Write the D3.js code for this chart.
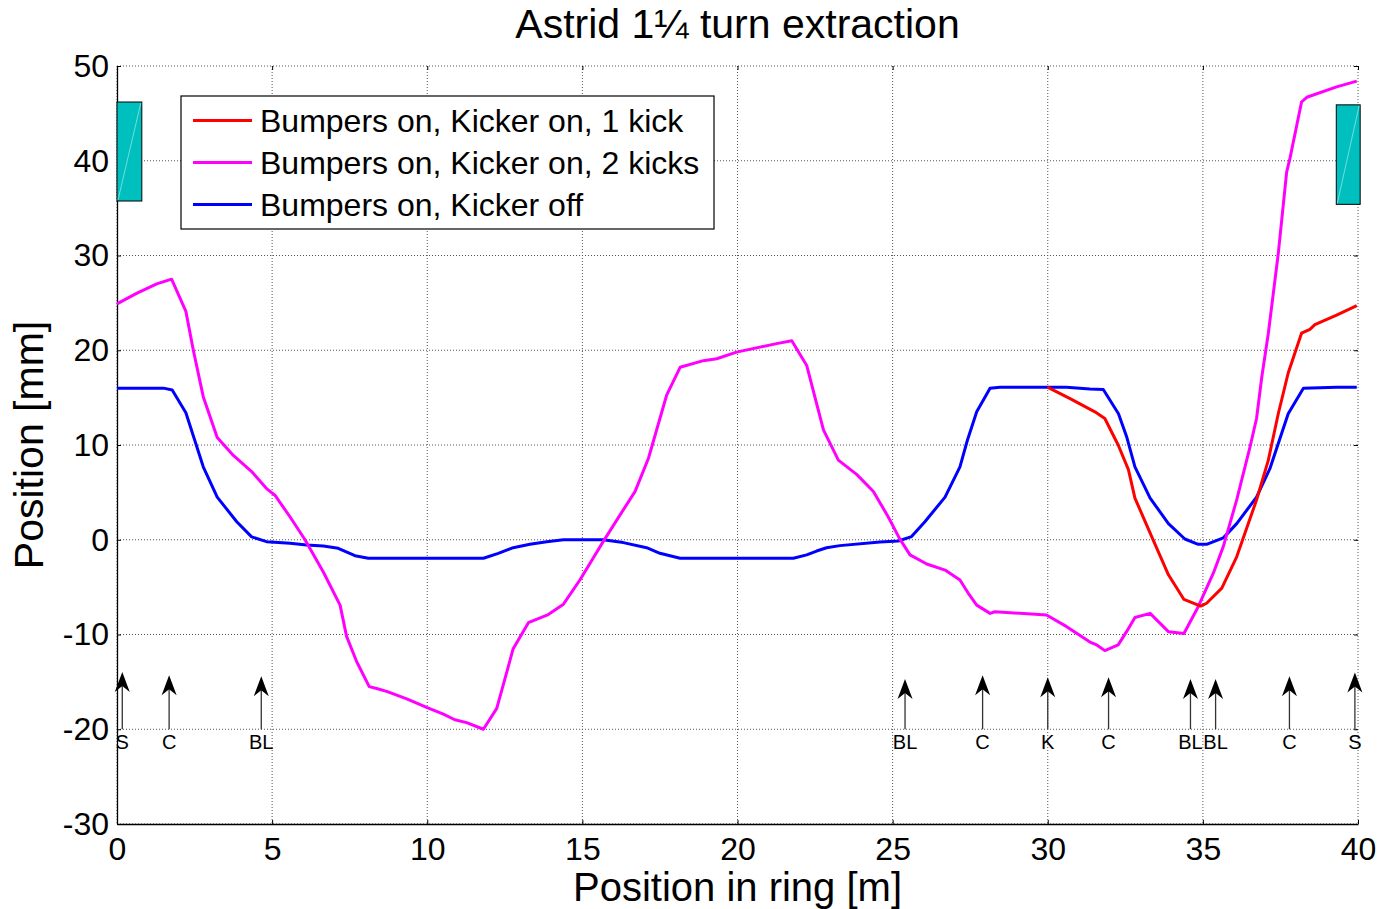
<!DOCTYPE html>
<html>
<head>
<meta charset="utf-8">
<script src="https://cdn.jsdelivr.net/npm/d3@7"></script>
<style>
  body { margin: 0; background: #fff; }
  svg { display: block; font-family: "Liberation Sans", Arial, Helvetica, sans-serif; }
</style>
</head>
<body>
<div id="chart"></div>
<script>
// tick values
var xTicks = [0, 5, 10, 15, 20, 25, 30, 35, 40];
var yTicks = [-30, -20, -10, 0, 10, 20, 30, 40, 50];

// Bumpers on, Kicker off (blue)
var offS = [0, 1.5, 1.78, 2.22, 2.78, 3.23, 3.86, 4.34, 4.82, 5.58, 6.11, 6.65, 7.13, 7.67, 8.10,
    11.81, 12.29, 12.56, 12.77, 13.31, 13.85, 14.39, 15.67, 16.32, 17.07, 17.50, 18.15,
    21.80, 22.23, 22.55, 22.87, 23.30, 24.59, 25.18, 25.61, 26.04, 26.69, 27.17, 27.41, 27.71,
    28.14, 28.46, 30.6, 31.36, 31.79, 32.28, 32.54, 32.81, 33.30, 33.89, 34.42, 34.85, 35.12,
    35.66, 36.09, 36.73, 37.16, 37.75, 38.24, 39.31, 39.96];
var offY = [16.0, 16.0, 15.8, 13.4, 7.7, 4.5, 1.9, 0.3, -0.2, -0.38, -0.55, -0.66, -0.9, -1.68, -1.95,
    -1.95, -1.44, -1.1, -0.84, -0.48, -0.2, 0, 0, -0.3, -0.84, -1.43, -1.95,
    -1.95, -1.6, -1.19, -0.84, -0.62, -0.25, -0.13, 0.33, 1.9, 4.5, 7.7, 10.5, 13.5,
    16.0, 16.1, 16.1, 15.9, 15.85, 13.3, 10.9, 7.7, 4.4, 1.7, 0.08, -0.48, -0.48,
    0.2, 1.7, 4.5, 7.5, 13.3, 16.0, 16.1, 16.1];

// Bumpers on, Kicker on, 1 kick (red)
var oneS = [29.99, 30.72, 31.52, 31.84, 32.27, 32.60, 32.81, 33.35, 33.89, 34.39, 34.93, 35.12,
    35.61, 36.09, 36.73, 37.11, 37.43, 37.75, 38.18, 38.45, 38.61, 39.31, 39.96];
var oneY = [16.1, 14.9, 13.5, 12.8, 10.0, 7.4, 4.4, 0.33, -3.7, -6.3, -7.0, -6.7,
    -5.1, -1.8, 4.2, 8.4, 13.3, 17.6, 21.8, 22.2, 22.7, 23.7, 24.7];

// Bumpers on, Kicker on, 2 kicks (magenta)
var twoS = [0, 0.63, 1.28, 1.76, 2.22, 2.46, 2.78, 3.23, 3.75, 4.34, 4.82, 5.09, 5.58, 6.06,
    6.65, 7.19, 7.40, 7.73, 8.13, 8.37, 8.69, 9.34, 9.98, 10.52, 10.89, 11.27, 11.81,
    12.24, 12.51, 12.77, 13.26, 13.90, 14.39, 14.92, 15.67, 16.21, 16.70, 17.13, 17.72,
    18.15, 18.90, 19.33, 19.97, 21.26, 21.75, 22.23, 22.77, 23.25, 23.84, 24.38, 24.86,
    25.22, 25.56, 26.10, 26.69, 27.17, 27.44, 27.71, 28.14, 28.30, 29.96, 30.61, 31.36,
    31.58, 31.84, 32.27, 32.54, 32.81, 33.30, 33.89, 34.39, 34.85, 35.34, 35.66, 36.09,
    36.52, 36.73, 36.90, 37.11, 37.43, 37.70, 37.81, 38.18, 38.35, 39.31, 39.96];
var twoY = [24.9, 26.0, 27.0, 27.5, 24.1, 20.0, 15.1, 10.8, 8.9, 7.2, 5.4, 4.7, 2.4, 0,
    -3.4, -6.9, -10.2, -12.9, -15.5, -15.7, -16.0, -16.8, -17.7, -18.4, -19.0, -19.3, -20.0,
    -17.8, -14.6, -11.5, -8.75, -7.9, -6.8, -4.25, -0.2, 2.6, 5.1, 8.6, 15.3,
    18.2, 18.9, 19.1, 19.8, 20.7, 21.0, 18.4, 11.6, 8.4, 6.9, 5.1, 2.4,
    0.15, -1.6, -2.56, -3.2, -4.25, -5.65, -6.9, -7.77, -7.6, -7.94, -9.17, -10.8,
    -11.1, -11.7, -11.1, -9.7, -8.2, -7.77, -9.7, -9.9, -7.07, -3.5, -0.7, 4.2,
    9.8, 12.8, 17.2, 21.8, 30.2, 38.8, 40.3, 46.2, 46.7, 47.8, 48.4];

// element markers along the ring
var elemS = [0.17, 1.68, 4.65, 25.4, 27.9, 30.0, 31.96, 34.6, 35.41, 37.79, 39.9];
var elemLabel = ["S", "C", "BL", "BL", "C", "K", "C", "BL", "BL", "C", "S"];
var elemTip = [-13.95, -14.3, -14.4, -14.7, -14.3, -14.5, -14.5, -14.7, -14.7, -14.4, -14.0];
var elemBase = -20;

// septum blocks [s0, s1, y0, y1]
var septumS0 = [0, 39.3];
var septumS1 = [0.8, 40.07];
var septumY0 = [35.75, 35.4];
var septumY1 = [46.2, 45.9];

var seriesNames = ["Bumpers on, Kicker on, 1 kick", "Bumpers on, Kicker on, 2 kicks", "Bumpers on, Kicker off"];
var seriesColors = ["#ff0000", "#ff00ff", "#0000ff"];

var W = 1380, H = 909;
var plotL = 117, plotR = 1358, plotT = 66, plotB = 824;

var svg = d3.select("#chart").append("svg")
    .attr("width", W)
    .attr("height", H);

svg.append("rect").attr("width", W).attr("height", H).attr("fill", "#fff");

var x = d3.scaleLinear().domain([0, 40]).range([plotL, plotR]);
var y = d3.scaleLinear().domain([-30, 50]).range([plotB, plotT]);

// grid
var grid = svg.append("g").attr("class", "grid");
grid.selectAll(".gx")
    .data(xTicks)
    .enter().append("line")
    .attr("x1", function (d) { return x(d); })
    .attr("x2", function (d) { return x(d); })
    .attr("y1", plotT)
    .attr("y2", plotB)
    .attr("stroke", "#555")
    .attr("stroke-width", 1)
    .attr("stroke-dasharray", "1,2");
grid.selectAll(".gy")
    .data(yTicks)
    .enter().append("line")
    .attr("y1", function (d) { return y(d); })
    .attr("y2", function (d) { return y(d); })
    .attr("x1", plotL)
    .attr("x2", plotR)
    .attr("stroke", "#555")
    .attr("stroke-width", 1)
    .attr("stroke-dasharray", "1,2");

// axes (plain hyphen for negatives, like the original)
var plainFmt = function (d) { return String(d); };
var xAxis = svg.append("g")
    .attr("transform", "translate(0," + plotB + ")")
    .call(d3.axisBottom(x).tickValues(xTicks).tickFormat(plainFmt).tickSize(-4).tickSizeOuter(0).tickPadding(13));
var yAxis = svg.append("g")
    .attr("transform", "translate(" + plotL + ",0)")
    .call(d3.axisLeft(y).tickValues(yTicks).tickFormat(plainFmt).tickSize(-4).tickSizeOuter(0).tickPadding(8));
[xAxis, yAxis].forEach(function (g) {
    g.select(".domain").attr("stroke", "#000").attr("stroke-width", 1.3);
    g.selectAll(".tick line").attr("stroke", "#000");
    g.selectAll(".tick text")
        .attr("fill", "#000")
        .style("font-family", "'Liberation Sans', Arial, sans-serif")
        .style("font-size", "32px");
});

// small ticks on top and right edges
var topAxis = svg.append("g")
    .attr("transform", "translate(0," + plotT + ")")
    .call(d3.axisTop(x).tickValues(xTicks).tickSize(-4).tickSizeOuter(0).tickFormat(""));
var rightAxis = svg.append("g")
    .attr("transform", "translate(" + plotR + ",0)")
    .call(d3.axisRight(y).tickValues(yTicks).tickSize(-4).tickSizeOuter(0).tickFormat(""));
[topAxis, rightAxis].forEach(function (g) {
    g.select(".domain").remove();
    g.selectAll(".tick line").attr("stroke", "#000");
});

// septum blocks
septumS0.forEach(function (s0, i) {
    var x0 = x(s0), x1 = x(septumS1[i]), y0 = y(septumY0[i]), y1 = y(septumY1[i]);
    svg.append("rect")
        .attr("x", x0)
        .attr("y", y1)
        .attr("width", x1 - x0)
        .attr("height", y0 - y1)
        .attr("fill", "#00bfbf")
        .attr("stroke", "#000")
        .attr("stroke-width", 1);
    svg.append("line")
        .attr("x1", x0 + 1).attr("y1", y0 - 1)
        .attr("x2", x1 - 1).attr("y2", y1 + 1)
        .attr("stroke", "#8fe3e3")
        .attr("stroke-width", 0.8);
});

// curves
var line = d3.line()
    .x(function (d) { return x(d[0]); })
    .y(function (d) { return y(d[1]); });

function pairs(s, v) {
    return s.map(function (d, i) { return [d, v[i]]; });
}

var curves = [
    { s: offS, v: offY, c: seriesColors[2] },
    { s: twoS, v: twoY, c: seriesColors[1] },
    { s: oneS, v: oneY, c: seriesColors[0] }
];
curves.forEach(function (cv) {
    svg.append("path")
        .datum(pairs(cv.s, cv.v))
        .attr("d", line)
        .attr("fill", "none")
        .attr("stroke", cv.c)
        .attr("stroke-width", 3)
        .attr("stroke-linejoin", "round");
});

// element arrows
var arrows = svg.append("g");
elemS.forEach(function (s, i) {
    var ax = x(s), tipY = y(elemTip[i]), baseY = y(elemBase);
    arrows.append("line")
        .attr("x1", ax).attr("x2", ax)
        .attr("y1", baseY).attr("y2", tipY + 12)
        .attr("stroke", "#333")
        .attr("stroke-width", 1.3);
    arrows.append("path")
        .attr("d", "M" + ax + "," + tipY +
            " L" + (ax + 7.5) + "," + (tipY + 20) +
            " L" + ax + "," + (tipY + 14) +
            " L" + (ax - 7.5) + "," + (tipY + 20) + " Z")
        .attr("fill", "#000");
    arrows.append("text")
        .attr("x", ax)
        .attr("y", baseY + 20)
        .attr("text-anchor", "middle")
        .style("font-size", "20px")
        .attr("fill", "#000")
        .text(elemLabel[i]);
});

// legend
var lg = svg.append("g");
lg.append("rect")
    .attr("x", 181).attr("y", 96)
    .attr("width", 533).attr("height", 133)
    .attr("fill", "#fff")
    .attr("stroke", "#000")
    .attr("stroke-width", 1.2);
seriesNames.forEach(function (name, i) {
    var ly = 120.5 + i * 42;
    lg.append("line")
        .attr("x1", 193).attr("x2", 252)
        .attr("y1", ly).attr("y2", ly)
        .attr("stroke", seriesColors[i])
        .attr("stroke-width", 3);
    lg.append("text")
        .attr("x", 260)
        .attr("y", ly)
        .attr("dy", "0.36em")
        .style("font-size", "32px")
        .attr("fill", "#000")
        .text(name);
});

// title and axis labels
svg.append("text")
    .attr("x", (plotL + plotR) / 2)
    .attr("y", 38)
    .attr("text-anchor", "middle")
    .style("font-size", "41px")
    .text("Astrid 1\u00BC turn extraction");

svg.append("text")
    .attr("x", (plotL + plotR) / 2)
    .attr("y", 901)
    .attr("text-anchor", "middle")
    .style("font-size", "40px")
    .text("Position in ring [m]");

svg.append("text")
    .attr("transform", "translate(43," + ((plotT + plotB) / 2) + ") rotate(-90)")
    .attr("text-anchor", "middle")
    .style("font-size", "41px")
    .text("Position [mm]");
</script>
</body>
</html>
